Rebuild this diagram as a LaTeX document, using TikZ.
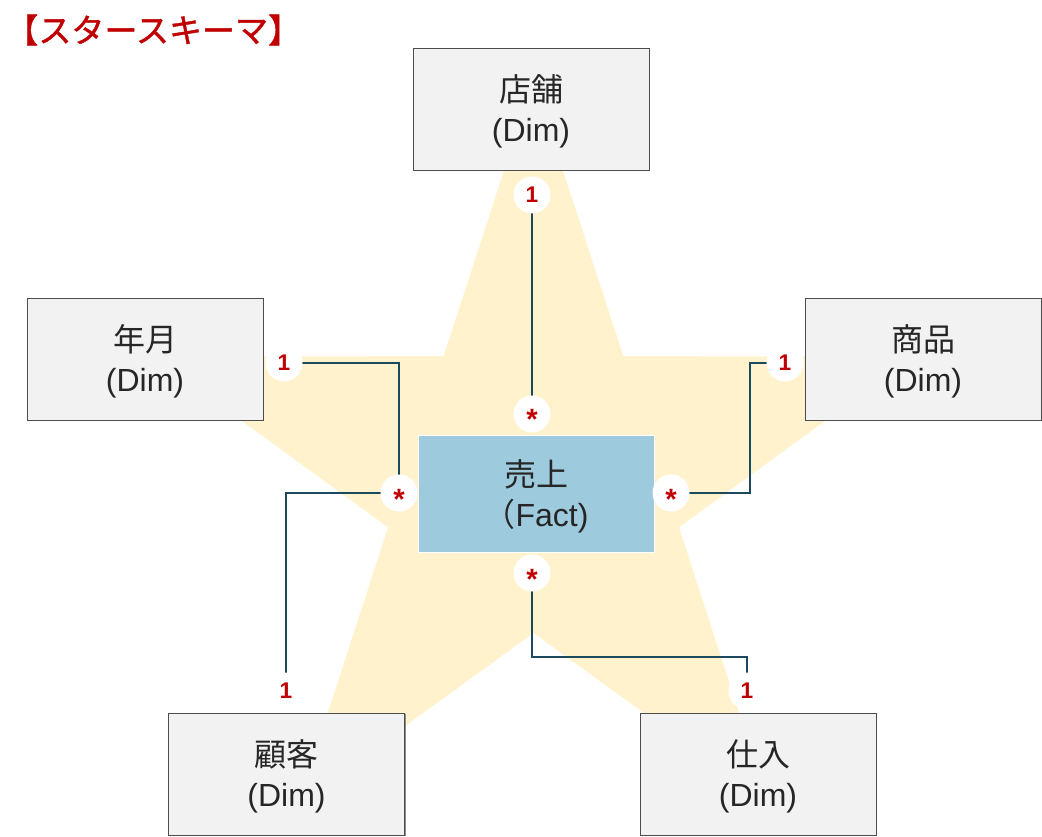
\documentclass[tikz,border=0pt]{standalone}
\usepackage{fontspec}
\setmainfont{Liberation Sans}
\newfontfamily\jp{Noto Sans CJK JP}
\newfontfamily\jpt[FakeBold=1.2]{Noto Sans CJK JP}
\usetikzlibrary{shadows}
\definecolor{starfill}{HTML}{FFF2CC}
\definecolor{dimfill}{HTML}{F2F2F2}
\definecolor{factfill}{HTML}{9ECADE}
\definecolor{linecol}{HTML}{1B4A5E}
\definecolor{redlab}{HTML}{C00000}
\definecolor{txt}{HTML}{262626}
\pgfdeclarelayer{starlayer}
\pgfdeclarelayer{linelayer}
\pgfsetlayers{starlayer,linelayer,main}
\begin{document}
\begin{tikzpicture}[x=0.75pt,y=-0.75pt,
  boxtext/.style={align=center, inner sep=0pt, text=txt,
    font=\fontsize{24}{30}\selectfont, yshift=-1.5pt},
  dimbox/.style={draw=black!70, line width=0.7pt, fill=dimfill,
    minimum width=177pt, minimum height=91.5pt, inner sep=0pt,
    drop shadow={shadow xshift=1pt, shadow yshift=-1pt, fill=black!45, opacity=1}},
  factbox/.style={draw=white, line width=0.7pt, fill=factfill,
    minimum width=177pt, minimum height=87.75pt, inner sep=0pt},
  onec/.style={circle, fill=white, minimum size=27.75pt, inner sep=0pt,
    text=redlab, font=\bfseries\fontsize{17}{18}\selectfont},
  manyc/.style={circle, fill=white, minimum size=27.75pt, inner sep=0pt,
    text=redlab, font=\bfseries\fontsize{22}{22}\selectfont,
    text height=24pt, text depth=0pt},
  conn/.style={draw=linecol, line width=1pt},
  titletext/.style={anchor=west, inner sep=0pt, text=redlab, font=\jpt\fontsize{24.8}{28}\selectfont}
]
\useasboundingbox (0,0) rectangle (1042,837);

% star background
\begin{pgfonlayer}{starlayer}
\fill[starfill] (533.5,80) -- (623.4,356.2) -- (913.9,356.4) -- (679,527.3)
  -- (768.6,803.6) -- (533.5,633) -- (298.4,803.6) -- (388,527.3)
  -- (153.1,356.4) -- (443.6,356.2) -- cycle;
\end{pgfonlayer}

% title
\node[titletext] (title) at (5,30) {【スタースキーマ】};

% tables
\node[dimbox, label={[boxtext]center:{{\jp 店舗}\\(Dim)}}] (tenpo) at (531,109) {};
\node[dimbox, label={[boxtext]center:{{\jp 年月}\\(Dim)}}] (nengetsu) at (145,359) {};
\node[dimbox, label={[boxtext]center:{{\jp 商品}\\(Dim)}}] (shohin) at (923,359) {};
\node[dimbox, label={[boxtext]center:{{\jp 顧客}\\(Dim)}}] (kokyaku) at (286.5,774) {};
\node[dimbox, label={[boxtext]center:{{\jp 仕入}\\(Dim)}}] (shiire) at (758,774) {};
\node[factbox, label={[boxtext]center:{{\jp 売上}\\{\jp （}Fact)}}] (uriage) at (536,494) {};

% multiplicity markers
\node[onec] (t1) at (532,195) {1};
\node[manyc] (ts) at (532,414) {*};
\node[onec] (l1) at (284,363) {1};
\node[manyc] (ls) at (399,493) {*};
\node[onec] (r1) at (785,363) {1};
\node[manyc] (rs) at (671,493) {*};
\node[manyc] (bs) at (532,573) {*};
\node[onec] (bl1) at (286,691) {1};
\node[onec] (br1) at (747,691) {1};

% connectors
\begin{pgfonlayer}{linelayer}
\draw[conn] (t1.center) -- (ts.center);
\draw[conn] (l1.center) -| (ls.center);
\draw[conn] (r1.center) -- ++(-35,0) |- (rs.center);
\draw[conn] (ls.center) -| (bl1.center);
\draw[conn] (bs.center) -- ++(0,84) -| (br1.center);
\end{pgfonlayer}
\end{tikzpicture}
\end{document}
